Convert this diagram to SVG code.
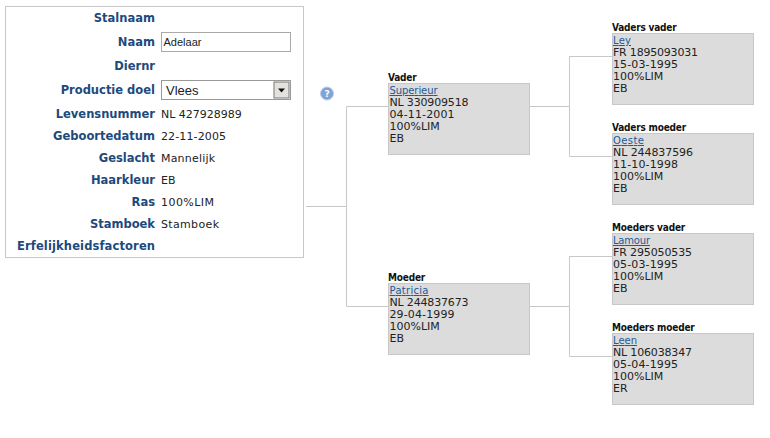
<svg xmlns="http://www.w3.org/2000/svg" width="770" height="438" viewBox="0 0 770 438">
<style>
text{font-family:"DejaVu Sans",Verdana,sans-serif;font-size:11px;fill:#222}
.l{font-weight:bold;fill:#1d4a7c;text-anchor:end;font-size:11.5px}
.t{font-family:"DejaVu Sans Condensed","DejaVu Sans",sans-serif;font-weight:bold;fill:#111;font-size:10px;letter-spacing:-.2px}
.a{fill:#1d5a96;text-decoration:underline;font-size:10px}
.b{fill:#dcdcdc;stroke:#c8c8c8;stroke-width:1}
.c{fill:none;stroke:#c8c8c8;stroke-width:1}
</style>
<rect width="770" height="438" fill="#fff"/>
<g id="connectors">
<path class="c" d="M306 206.500H346.500V106.500H389M346.500 206.500V306.500H389"/>
<path class="c" d="M529 106.500H569.500V56.500H613M569.500 106.500V156.500H613"/>
<path class="c" d="M529 306.500H569.500V256.500H613M569.500 306.500V356.500H613"/>
</g>
<g id="form">
<rect x="5.500" y="6.500" width="298" height="251" fill="#fff" stroke="#c8c8c8"/>
<text class="l" x="155" y="22">Stalnaam</text>
<text class="l" x="155" y="46">Naam</text>
<text class="l" x="155" y="70">Diernr</text>
<text class="l" x="155" y="94">Productie doel</text>
<text class="l" x="155" y="118">Levensnummer</text>
<text class="l" x="155" y="140">Geboortedatum</text>
<text class="l" x="155" y="162">Geslacht</text>
<text class="l" x="155" y="184">Haarkleur</text>
<text class="l" x="155" y="206">Ras</text>
<text class="l" x="155" y="228">Stamboek</text>
<text class="l" x="155" y="250" textLength="138">Erfelijkheidsfactoren</text>
<rect x="161.500" y="32.500" width="129" height="19" fill="#fff" stroke="#aaa"/>
<text x="163.500" y="46" style="font-family:'Liberation Sans',Arial,sans-serif;font-size:11px">Adelaar</text>
<rect x="161.500" y="80.500" width="129" height="19" fill="#fff" stroke="#999"/>
<text x="166" y="95" style="font-family:'Liberation Sans',Arial,sans-serif;font-size:13px">Vlees</text>
<rect x="274" y="82" width="15" height="16" fill="#e4e2dc" stroke="#777"/>
<path d="M278 88.500h7l-3.500 4z" fill="#111"/>
<text x="161" y="118">NL 427928989</text>
<text x="161" y="140" textLength="65">22-11-2005</text>
<text x="161" y="162" textLength="54">Mannelijk</text>
<text x="161" y="184">EB</text>
<text x="161" y="206" textLength="53">100%LIM</text>
<text x="161" y="228" textLength="58">Stamboek</text>
</g>
<g id="help">
<circle cx="327" cy="93.500" r="6.500" fill="#7fa3d6" stroke="#b9cbe6"/>
<text x="327" y="97" text-anchor="middle" style="font-size:9px;font-weight:bold;fill:#fff">?</text>
</g>
<g id="vader">
<text class="t" x="388" y="81">Vader</text>
<rect class="b" x="388.500" y="83.500" width="141" height="71"/>
<text class="a" x="389.500" y="94" textLength="48">Superieur</text>
<text x="389.500" y="106" textLength="79">NL 330909518</text><text x="389.500" y="118" textLength="65">04-11-2001</text><text x="389.500" y="130">100%LIM</text><text x="389.500" y="142">EB</text>
</g>
<g id="moeder">
<text class="t" x="388" y="281">Moeder</text>
<rect class="b" x="388.500" y="283.500" width="141" height="71"/>
<text class="a" x="389.500" y="294" textLength="39">Patricia</text>
<text x="389.500" y="306" textLength="79">NL 244837673</text><text x="389.500" y="318" textLength="65">29-04-1999</text><text x="389.500" y="330">100%LIM</text><text x="389.500" y="342">EB</text>
</g>
<g id="vaders-vader">
<text class="t" x="612" y="31">Vaders vader</text>
<rect class="b" x="612.500" y="33.500" width="141" height="71"/>
<text class="a" x="613" y="44" textLength="18">Ley</text>
<text x="613" y="56" textLength="85">FR 1895093031</text><text x="613" y="68" textLength="65">15-03-1995</text><text x="613" y="80">100%LIM</text><text x="613" y="92">EB</text>
</g>
<g id="vaders-moeder">
<text class="t" x="612" y="131">Vaders moeder</text>
<rect class="b" x="612.500" y="133.500" width="141" height="71"/>
<text class="a" x="613" y="144" textLength="31">Oeste</text>
<text x="613" y="156" textLength="80">NL 244837596</text><text x="613" y="168" textLength="65">11-10-1998</text><text x="613" y="180">100%LIM</text><text x="613" y="192">EB</text>
</g>
<g id="moeders-vader">
<text class="t" x="612" y="231">Moeders vader</text>
<rect class="b" x="612.500" y="233.500" width="141" height="71"/>
<text class="a" x="613" y="244" textLength="37">Lamour</text>
<text x="613" y="256" textLength="79">FR 295050535</text><text x="613" y="268" textLength="65">05-03-1995</text><text x="613" y="280">100%LIM</text><text x="613" y="292">EB</text>
</g>
<g id="moeders-moeder">
<text class="t" x="612" y="331">Moeders moeder</text>
<rect class="b" x="612.500" y="333.500" width="141" height="71"/>
<text class="a" x="613" y="344" textLength="24">Leen</text>
<text x="613" y="356" textLength="79">NL 106038347</text><text x="613" y="368" textLength="65">05-04-1995</text><text x="613" y="380">100%LIM</text><text x="613" y="392">ER</text>
</g>
</svg>
